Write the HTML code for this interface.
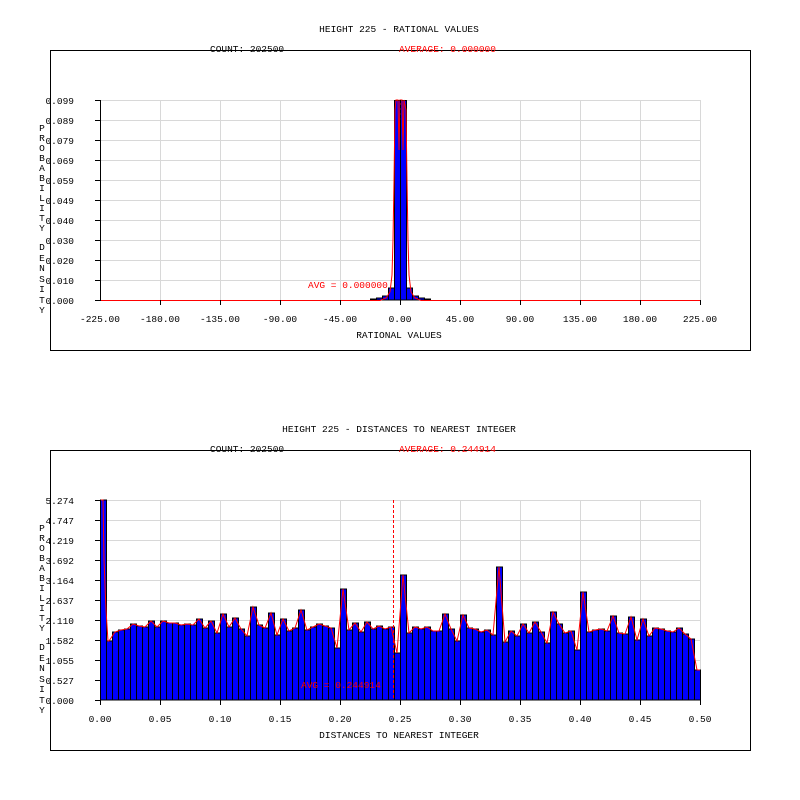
<!DOCTYPE html>
<html><head><meta charset="utf-8"><style>
html,body{margin:0;padding:0;background:#fff;}
svg{display:block;}
text{font-family:"Liberation Mono",monospace;font-size:9.5px;fill:#000;}
.r{fill:#f00;}
.m{text-anchor:middle;}
.e{text-anchor:end;}
</style></head><body>
<svg width="800" height="800" viewBox="0 0 800 800" xmlns="http://www.w3.org/2000/svg">
<!-- ========== TOP CHART ========== -->
<text x="399" y="32" class="m">HEIGHT 225 - RATIONAL VALUES</text>
<rect x="50.5" y="50.5" width="700" height="300" fill="none" stroke="#000" stroke-width="1"/>
<text x="210" y="52">COUNT: 202500</text>
<text x="399" y="52" class="r">AVERAGE: 0.000000</text>
<g stroke="#d8d8d8" stroke-width="1">
<line x1="160.5" y1="100" x2="160.5" y2="300"/><line x1="220.5" y1="100" x2="220.5" y2="300"/><line x1="280.5" y1="100" x2="280.5" y2="300"/><line x1="340.5" y1="100" x2="340.5" y2="300"/><line x1="400.5" y1="100" x2="400.5" y2="300"/><line x1="460.5" y1="100" x2="460.5" y2="300"/><line x1="520.5" y1="100" x2="520.5" y2="300"/><line x1="580.5" y1="100" x2="580.5" y2="300"/><line x1="640.5" y1="100" x2="640.5" y2="300"/><line x1="700.5" y1="100" x2="700.5" y2="300"/>
<line x1="100" y1="100.5" x2="700" y2="100.5"/><line x1="100" y1="120.5" x2="700" y2="120.5"/><line x1="100" y1="140.5" x2="700" y2="140.5"/><line x1="100" y1="160.5" x2="700" y2="160.5"/><line x1="100" y1="180.5" x2="700" y2="180.5"/><line x1="100" y1="200.5" x2="700" y2="200.5"/><line x1="100" y1="220.5" x2="700" y2="220.5"/><line x1="100" y1="240.5" x2="700" y2="240.5"/><line x1="100" y1="260.5" x2="700" y2="260.5"/><line x1="100" y1="280.5" x2="700" y2="280.5"/>
</g>
<g fill="#0000ff" stroke="#000" stroke-width="1">
<rect x="370.5" y="299" width="6" height="1"/><rect x="376.5" y="298" width="6" height="2"/><rect x="382.5" y="296" width="6" height="4"/><rect x="388.5" y="288" width="6" height="12"/>
<rect x="394.5" y="100.5" width="6" height="199.5"/><rect x="400.5" y="100.5" width="6" height="199.5"/>
<rect x="406.5" y="288" width="6" height="12"/><rect x="412.5" y="296" width="6" height="4"/><rect x="418.5" y="298" width="6" height="2"/><rect x="424.5" y="299" width="6" height="1"/>
</g>
<polyline fill="none" stroke="#f00" stroke-width="1" points="100,300.5 380,300.5 386,298 390,292 392,275 393,240 394,180 395,110 396,100 398,100 399,150 400,100 402,100 403,150 404,100 406,110 407,180 408,240 409,275 411,292 415,298 421,300.5 700,300.5"/>
<line x1="400.5" y1="100" x2="400.5" y2="300" stroke="#000" stroke-width="1" stroke-dasharray="3,2"/>
<line x1="100.5" y1="100" x2="100.5" y2="301" stroke="#000"/>
<g stroke="#000" stroke-width="1">
<line x1="95" y1="100.5" x2="100" y2="100.5"/><line x1="95" y1="120.5" x2="100" y2="120.5"/><line x1="95" y1="140.5" x2="100" y2="140.5"/><line x1="95" y1="160.5" x2="100" y2="160.5"/><line x1="95" y1="180.5" x2="100" y2="180.5"/><line x1="95" y1="200.5" x2="100" y2="200.5"/><line x1="95" y1="220.5" x2="100" y2="220.5"/><line x1="95" y1="240.5" x2="100" y2="240.5"/><line x1="95" y1="260.5" x2="100" y2="260.5"/><line x1="95" y1="280.5" x2="100" y2="280.5"/><line x1="95" y1="300.5" x2="100" y2="300.5"/>
<line x1="160.5" y1="300" x2="160.5" y2="305"/><line x1="220.5" y1="300" x2="220.5" y2="305"/><line x1="280.5" y1="300" x2="280.5" y2="305"/><line x1="340.5" y1="300" x2="340.5" y2="305"/><line x1="400.5" y1="300" x2="400.5" y2="305"/><line x1="460.5" y1="300" x2="460.5" y2="305"/><line x1="520.5" y1="300" x2="520.5" y2="305"/><line x1="580.5" y1="300" x2="580.5" y2="305"/><line x1="640.5" y1="300" x2="640.5" y2="305"/><line x1="700.5" y1="300" x2="700.5" y2="305"/>
</g>
<text x="308" y="288" class="r">AVG = 0.000000</text>
<g class="e">
<text x="74" y="104" class="e">0.099</text><text x="74" y="124" class="e">0.089</text><text x="74" y="144" class="e">0.079</text><text x="74" y="164" class="e">0.069</text><text x="74" y="184" class="e">0.059</text><text x="74" y="204" class="e">0.049</text><text x="74" y="224" class="e">0.040</text><text x="74" y="244" class="e">0.030</text><text x="74" y="264" class="e">0.020</text><text x="74" y="284" class="e">0.010</text><text x="74" y="304" class="e">0.000</text>
</g>
<g class="m">
<text x="42" y="131" class="m">P</text><text x="42" y="141" class="m">R</text><text x="42" y="151" class="m">O</text><text x="42" y="161" class="m">B</text><text x="42" y="171" class="m">A</text><text x="42" y="181" class="m">B</text><text x="42" y="191" class="m">I</text><text x="42" y="201" class="m">L</text><text x="42" y="211" class="m">I</text><text x="42" y="221" class="m">T</text><text x="42" y="231" class="m">Y</text>
<text x="42" y="250" class="m">D</text><text x="42" y="261" class="m">E</text><text x="42" y="271" class="m">N</text><text x="42" y="282" class="m">S</text><text x="42" y="292" class="m">I</text><text x="42" y="303" class="m">T</text><text x="42" y="313" class="m">Y</text>
</g>
<text x="100" y="322" class="m">-225.00</text><text x="160" y="322" class="m">-180.00</text><text x="220" y="322" class="m">-135.00</text><text x="280" y="322" class="m">-90.00</text><text x="340" y="322" class="m">-45.00</text><text x="400" y="322" class="m">0.00</text><text x="460" y="322" class="m">45.00</text><text x="520" y="322" class="m">90.00</text><text x="580" y="322" class="m">135.00</text><text x="640" y="322" class="m">180.00</text><text x="700" y="322" class="m">225.00</text>
<text x="399" y="338" class="m">RATIONAL VALUES</text>

<!-- ========== BOTTOM CHART ========== -->
<text x="399" y="432" class="m">HEIGHT 225 - DISTANCES TO NEAREST INTEGER</text>
<rect x="50.5" y="450.5" width="700" height="300" fill="none" stroke="#000" stroke-width="1"/>
<text x="210" y="452">COUNT: 202500</text>
<text x="399" y="452" class="r">AVERAGE: 0.244914</text>
<g stroke="#d8d8d8" stroke-width="1">
<line x1="160.5" y1="500" x2="160.5" y2="700"/><line x1="220.5" y1="500" x2="220.5" y2="700"/><line x1="280.5" y1="500" x2="280.5" y2="700"/><line x1="340.5" y1="500" x2="340.5" y2="700"/><line x1="400.5" y1="500" x2="400.5" y2="700"/><line x1="460.5" y1="500" x2="460.5" y2="700"/><line x1="520.5" y1="500" x2="520.5" y2="700"/><line x1="580.5" y1="500" x2="580.5" y2="700"/><line x1="640.5" y1="500" x2="640.5" y2="700"/><line x1="700.5" y1="500" x2="700.5" y2="700"/>
<line x1="100" y1="500.5" x2="700" y2="500.5"/><line x1="100" y1="520.5" x2="700" y2="520.5"/><line x1="100" y1="540.5" x2="700" y2="540.5"/><line x1="100" y1="560.5" x2="700" y2="560.5"/><line x1="100" y1="580.5" x2="700" y2="580.5"/><line x1="100" y1="600.5" x2="700" y2="600.5"/><line x1="100" y1="620.5" x2="700" y2="620.5"/><line x1="100" y1="640.5" x2="700" y2="640.5"/><line x1="100" y1="660.5" x2="700" y2="660.5"/><line x1="100" y1="680.5" x2="700" y2="680.5"/>
</g>
<g fill="#0000ff" stroke="#000" stroke-width="1">
<rect x="100.5" y="500" width="6" height="200"/><rect x="106.5" y="641" width="6" height="59"/><rect x="112.5" y="632" width="6" height="68"/><rect x="118.5" y="630" width="6" height="70"/><rect x="124.5" y="629" width="6" height="71"/><rect x="130.5" y="624" width="6" height="76"/><rect x="136.5" y="626" width="6" height="74"/><rect x="142.5" y="627" width="6" height="73"/><rect x="148.5" y="621" width="6" height="79"/><rect x="154.5" y="627" width="6" height="73"/>
<rect x="160.5" y="621" width="6" height="79"/><rect x="166.5" y="623" width="6" height="77"/><rect x="172.5" y="623" width="6" height="77"/><rect x="178.5" y="625" width="6" height="75"/><rect x="184.5" y="624" width="6" height="76"/><rect x="190.5" y="625" width="6" height="75"/><rect x="196.5" y="619" width="6" height="81"/><rect x="202.5" y="628" width="6" height="72"/><rect x="208.5" y="621" width="6" height="79"/><rect x="214.5" y="633" width="6" height="67"/>
<rect x="220.5" y="614" width="6" height="86"/><rect x="226.5" y="627" width="6" height="73"/><rect x="232.5" y="618" width="6" height="82"/><rect x="238.5" y="629" width="6" height="71"/><rect x="244.5" y="636" width="6" height="64"/><rect x="250.5" y="607" width="6" height="93"/><rect x="256.5" y="625" width="6" height="75"/><rect x="262.5" y="628" width="6" height="72"/><rect x="268.5" y="613" width="6" height="87"/><rect x="274.5" y="635" width="6" height="65"/>
<rect x="280.5" y="619" width="6" height="81"/><rect x="286.5" y="631" width="6" height="69"/><rect x="292.5" y="628" width="6" height="72"/><rect x="298.5" y="610" width="6" height="90"/><rect x="304.5" y="630" width="6" height="70"/><rect x="310.5" y="627" width="6" height="73"/><rect x="316.5" y="624" width="6" height="76"/><rect x="322.5" y="626" width="6" height="74"/><rect x="328.5" y="628" width="6" height="72"/><rect x="334.5" y="648" width="6" height="52"/>
<rect x="340.5" y="589" width="6" height="111"/><rect x="346.5" y="630" width="6" height="70"/><rect x="352.5" y="623" width="6" height="77"/><rect x="358.5" y="632" width="6" height="68"/><rect x="364.5" y="622" width="6" height="78"/><rect x="370.5" y="629" width="6" height="71"/><rect x="376.5" y="626" width="6" height="74"/><rect x="382.5" y="629" width="6" height="71"/><rect x="388.5" y="627" width="6" height="73"/><rect x="394.5" y="653" width="6" height="47"/>
<rect x="400.5" y="575" width="6" height="125"/><rect x="406.5" y="633" width="6" height="67"/><rect x="412.5" y="627" width="6" height="73"/><rect x="418.5" y="629" width="6" height="71"/><rect x="424.5" y="627" width="6" height="73"/><rect x="430.5" y="631" width="6" height="69"/><rect x="436.5" y="631" width="6" height="69"/><rect x="442.5" y="614" width="6" height="86"/><rect x="448.5" y="629" width="6" height="71"/><rect x="454.5" y="641" width="6" height="59"/>
<rect x="460.5" y="615" width="6" height="85"/><rect x="466.5" y="628" width="6" height="72"/><rect x="472.5" y="629" width="6" height="71"/><rect x="478.5" y="632" width="6" height="68"/><rect x="484.5" y="630" width="6" height="70"/><rect x="490.5" y="635" width="6" height="65"/><rect x="496.5" y="567" width="6" height="133"/><rect x="502.5" y="642" width="6" height="58"/><rect x="508.5" y="631" width="6" height="69"/><rect x="514.5" y="636" width="6" height="64"/>
<rect x="520.5" y="624" width="6" height="76"/><rect x="526.5" y="633" width="6" height="67"/><rect x="532.5" y="622" width="6" height="78"/><rect x="538.5" y="632" width="6" height="68"/><rect x="544.5" y="643" width="6" height="57"/><rect x="550.5" y="612" width="6" height="88"/><rect x="556.5" y="624" width="6" height="76"/><rect x="562.5" y="633" width="6" height="67"/><rect x="568.5" y="631" width="6" height="69"/><rect x="574.5" y="650" width="6" height="50"/>
<rect x="580.5" y="592" width="6" height="108"/><rect x="586.5" y="632" width="6" height="68"/><rect x="592.5" y="630" width="6" height="70"/><rect x="598.5" y="629" width="6" height="71"/><rect x="604.5" y="631" width="6" height="69"/><rect x="610.5" y="616" width="6" height="84"/><rect x="616.5" y="633" width="6" height="67"/><rect x="622.5" y="634" width="6" height="66"/><rect x="628.5" y="617" width="6" height="83"/><rect x="634.5" y="640" width="6" height="60"/>
<rect x="640.5" y="619" width="6" height="81"/><rect x="646.5" y="636" width="6" height="64"/><rect x="652.5" y="628" width="6" height="72"/><rect x="658.5" y="629" width="6" height="71"/><rect x="664.5" y="631" width="6" height="69"/><rect x="670.5" y="632" width="6" height="68"/><rect x="676.5" y="628" width="6" height="72"/><rect x="682.5" y="634" width="6" height="66"/><rect x="688.5" y="639" width="6" height="61"/><rect x="694.5" y="670" width="6" height="30"/>
</g>
<polyline fill="none" stroke="#f00" stroke-width="1" points="101,500 103,500 104,560 106,610 108,641 109,641 115,632 121,630 127,629 133,624 139,626 145,627 151,621 157,627 163,621 169,623 175,623 181,625 187,624 193,625 199,619 205,628 211,621 217,633 223,614 229,627 235,618 241,629 247,636 253,607 259,625 265,628 271,613 277,635 283,619 289,631 295,628 301,610 307,630 313,627 319,624 325,626 331,628 337,648 343,589 349,630 355,623 361,632 367,622 373,629 379,626 385,629 391,627 397,653 403,575 409,633 415,627 421,629 427,627 433,631 439,631 445,614 451,629 457,641 463,615 469,628 475,629 481,632 487,630 493,635 499,567 505,642 511,631 517,636 523,624 529,633 535,622 541,632 547,643 553,612 559,624 565,633 571,631 577,650 583,592 589,632 595,630 601,629 607,631 613,616 619,633 625,634 631,617 637,640 643,619 649,636 655,628 661,629 667,631 673,632 679,628 685,634 691,639 697,670 700,670"/>
<line x1="393.5" y1="500" x2="393.5" y2="700" stroke="#f00" stroke-width="1" stroke-dasharray="3,2"/>
<line x1="100.5" y1="500" x2="100.5" y2="701" stroke="#000"/>
<g stroke="#000" stroke-width="1">
<line x1="95" y1="500.5" x2="100" y2="500.5"/><line x1="95" y1="520.5" x2="100" y2="520.5"/><line x1="95" y1="540.5" x2="100" y2="540.5"/><line x1="95" y1="560.5" x2="100" y2="560.5"/><line x1="95" y1="580.5" x2="100" y2="580.5"/><line x1="95" y1="600.5" x2="100" y2="600.5"/><line x1="95" y1="620.5" x2="100" y2="620.5"/><line x1="95" y1="640.5" x2="100" y2="640.5"/><line x1="95" y1="660.5" x2="100" y2="660.5"/><line x1="95" y1="680.5" x2="100" y2="680.5"/><line x1="95" y1="700.5" x2="100" y2="700.5"/>
<line x1="100.5" y1="700" x2="100.5" y2="705"/><line x1="160.5" y1="700" x2="160.5" y2="705"/><line x1="220.5" y1="700" x2="220.5" y2="705"/><line x1="280.5" y1="700" x2="280.5" y2="705"/><line x1="340.5" y1="700" x2="340.5" y2="705"/><line x1="400.5" y1="700" x2="400.5" y2="705"/><line x1="460.5" y1="700" x2="460.5" y2="705"/><line x1="520.5" y1="700" x2="520.5" y2="705"/><line x1="580.5" y1="700" x2="580.5" y2="705"/><line x1="640.5" y1="700" x2="640.5" y2="705"/><line x1="700.5" y1="700" x2="700.5" y2="705"/>
</g>
<text x="301" y="688" class="r">AVG = 0.244914</text>
<text x="74" y="504" class="e">5.274</text><text x="74" y="524" class="e">4.747</text><text x="74" y="544" class="e">4.219</text><text x="74" y="564" class="e">3.692</text><text x="74" y="584" class="e">3.164</text><text x="74" y="604" class="e">2.637</text><text x="74" y="624" class="e">2.110</text><text x="74" y="644" class="e">1.582</text><text x="74" y="664" class="e">1.055</text><text x="74" y="684" class="e">0.527</text><text x="74" y="704" class="e">0.000</text>
<text x="42" y="531" class="m">P</text><text x="42" y="541" class="m">R</text><text x="42" y="551" class="m">O</text><text x="42" y="561" class="m">B</text><text x="42" y="571" class="m">A</text><text x="42" y="581" class="m">B</text><text x="42" y="591" class="m">I</text><text x="42" y="601" class="m">L</text><text x="42" y="611" class="m">I</text><text x="42" y="621" class="m">T</text><text x="42" y="631" class="m">Y</text>
<text x="42" y="650" class="m">D</text><text x="42" y="661" class="m">E</text><text x="42" y="671" class="m">N</text><text x="42" y="682" class="m">S</text><text x="42" y="692" class="m">I</text><text x="42" y="703" class="m">T</text><text x="42" y="713" class="m">Y</text>
<text x="100" y="722" class="m">0.00</text><text x="160" y="722" class="m">0.05</text><text x="220" y="722" class="m">0.10</text><text x="280" y="722" class="m">0.15</text><text x="340" y="722" class="m">0.20</text><text x="400" y="722" class="m">0.25</text><text x="460" y="722" class="m">0.30</text><text x="520" y="722" class="m">0.35</text><text x="580" y="722" class="m">0.40</text><text x="640" y="722" class="m">0.45</text><text x="700" y="722" class="m">0.50</text>
<text x="399" y="738" class="m">DISTANCES TO NEAREST INTEGER</text>
</svg>
</body></html>
